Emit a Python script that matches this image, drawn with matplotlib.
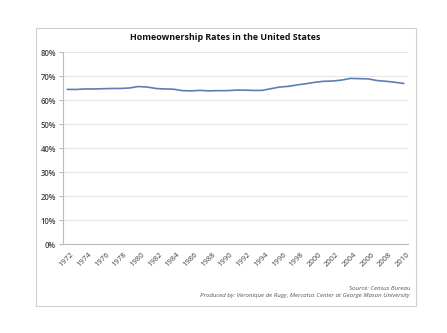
import matplotlib
matplotlib.use("Agg")
import matplotlib.pyplot as plt
import matplotlib.transforms as mtransforms
from matplotlib.patches import Rectangle
from matplotlib.ticker import FuncFormatter

# US homeownership rate (%), annual
years = list(range(1972, 2011))
rates = [64.4, 64.4, 64.6, 64.6, 64.7, 64.8, 64.8, 65.0, 65.6, 65.4,
         64.8, 64.6, 64.5, 63.9, 63.8, 64.0, 63.8, 63.9, 63.9, 64.1,
         64.1, 64.0, 64.0, 64.7, 65.4, 65.7, 66.3, 66.8, 67.4, 67.8,
         67.9, 68.3, 69.0, 68.9, 68.8, 68.1, 67.8, 67.4, 66.9]
y_ticks = [0, 10, 20, 30, 40, 50, 60, 70, 80]

W, H = 447, 333
fig = plt.figure(figsize=(W / 100, H / 100), dpi=100)
fig.patch.set_facecolor("white")
plt.rcParams["font.family"] = ["Open Sans", "DejaVu Sans"]

# chart frame, kept behind the axes
fig.patches.append(Rectangle((36 / W, 1 - 306 / H), 380 / W, 278 / H,
                             transform=fig.transFigure, facecolor="white",
                             edgecolor="#d0d0d0", linewidth=0.8, zorder=-5))

ax = fig.add_axes([63 / W, 1 - 244 / H, 345 / W, 192 / H])
ax.set_zorder(2)
ax.patch.set_visible(False)
ax.plot(range(len(years)), rates, color="#5b7fb0", linewidth=1.2)

ax.set_xlim(-0.5, len(years) - 0.5)
ax.set_ylim(0, 80)
ax.set_yticks(y_ticks)
ax.yaxis.set_major_formatter(FuncFormatter(lambda v, p: f"{v:.0f}%"))
ax.grid(axis="y", color="#e6e6e6", linewidth=0.8)
ax.set_axisbelow(True)

label_pos = [i for i, y in enumerate(years) if y % 2 == 0]
ax.set_xticks(label_pos)
ax.set_xticklabels([str(years[i]) for i in label_pos], rotation=45,
                   ha="right", va="top", fontsize=5.5,
                   rotation_mode="anchor", color="#404040")
ax.tick_params(axis="x", length=0, pad=5)
ax.tick_params(axis="y", length=3, color="#bbbbbb", labelsize=5.5,
               labelcolor="#404040", pad=2)
# nudge the slanted year labels a little to the right of their category
shift = mtransforms.ScaledTranslation(3 / 100, 0, fig.dpi_scale_trans)
for lbl in ax.get_xticklabels():
    lbl.set_transform(lbl.get_transform() + shift)
for lbl in ax.get_yticklabels():
    lbl.set_fontweight("semibold")

for side in ["top", "right"]:
    ax.spines[side].set_visible(False)
ax.spines["left"].set_color("#bbbbbb")
ax.spines["bottom"].set_color("#bbbbbb")
ax.spines["left"].set_linewidth(0.8)
ax.spines["bottom"].set_linewidth(0.8)

fig.text(225 / W, 1 - 38 / H, "Homeownership Rates in the United States",
         ha="center", va="center", fontsize=6.4, fontweight="bold",
         color="#111111")
fig.text(410 / W, 1 - 288 / H, "Source: Census Bureau", ha="right",
         va="center", fontsize=4.4, style="italic", color="#555555")
fig.text(410 / W, 1 - 296 / H,
         "Produced by: Veronique de Rugy, Mercatus Center at George Mason University",
         ha="right", va="center", fontsize=4.4, style="italic", color="#555555")

fig.savefig("out.png", dpi=100)
